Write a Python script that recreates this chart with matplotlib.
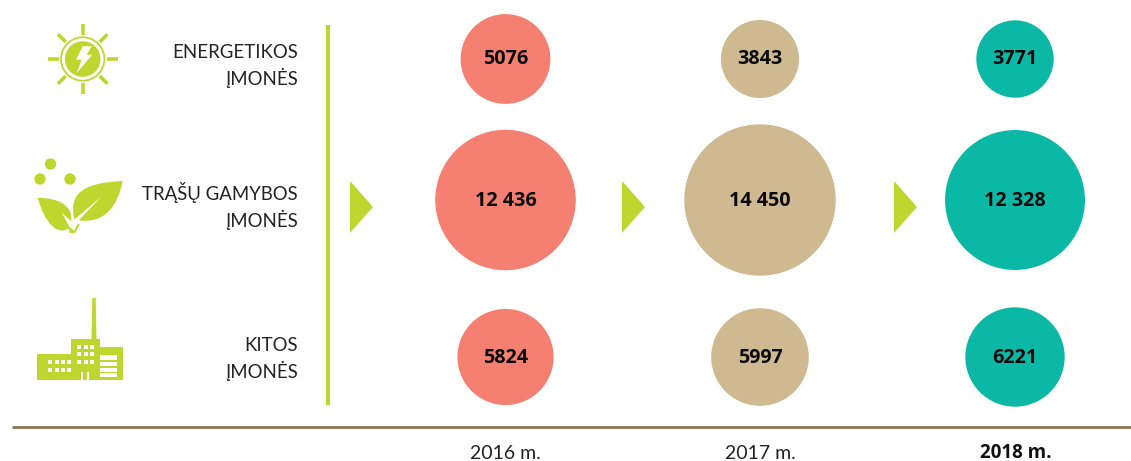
import matplotlib
matplotlib.use('Agg')
import matplotlib.pyplot as plt
import numpy as np
from matplotlib.patches import Circle, Rectangle, Polygon, PathPatch
from matplotlib.path import Path

plt.rcParams['font.family'] = ['Lato', 'DejaVu Sans']

years = ['2016 m.', '2017 m.', '2018 m.']
groups = ['ENERGETIKOS\nĮMONĖS', 'TRĄŠŲ GAMYBOS\nĮMONĖS', 'KITOS\nĮMONĖS']
energetikos = [5076, 3843, 3771]
trasu = [12436, 14450, 12328]
kitos = [5824, 5997, 6221]

green = '#BED72F'
year_colors = ['#F57F70', '#CFB991', '#0BB8A6']
year_x = [505.5, 760, 1015]
row_y = [59, 200, 357]
k = 0.63  # bubble area follows the value

C4 = [Path.MOVETO] + [Path.CURVE4] * 6

fig = plt.figure(figsize=(11.31, 4.61), dpi=100)
ax = fig.add_axes([0, 0, 1, 1])
ax.set_xlim(0, 1131)
ax.set_ylim(461, 0)
ax.axis('off')

# bubbles
for y, vals in zip(row_y, [energetikos, trasu, kitos]):
    for x, v, c in zip(year_x, vals, year_colors):
        ax.add_patch(Circle((x, y), k * np.sqrt(v), color=c, lw=0))
        label = f'{v:,}'.replace(',', ' ') if v >= 10000 else str(v)
        ax.text(x, y + 0.5, label, ha='center', va='center', fontsize=14.2,
                fontweight='bold', family='Open Sans', color='#0A0A0A')

# row labels
for y, g in zip([66, 206, 359], groups):
    ax.text(298, y, g, ha='right', va='center', fontsize=13.4,
            color='#222222', linespacing=1.41)

# year labels
for i, (x, t) in enumerate(zip(year_x, years)):
    if i == 2:
        ax.text(x + 1, 453, t, ha='center', va='center', fontsize=13.5,
                color='#111111', fontweight='bold', family='Open Sans')
    else:
        ax.text(x, 453, t, ha='center', va='center', fontsize=14, color='#222222')

# lines
ax.plot([327.5, 327.5], [25, 405], color=green, lw=2.9, solid_capstyle='butt')
ax.plot([12, 1131], [426.7, 426.7], color='#8B7355', lw=2, solid_capstyle='butt')

# arrows
for x in [350, 622, 894]:
    ax.add_patch(Polygon([(x, 181), (x + 23, 207), (x, 233)], color=green, lw=0))

# sun icon
cx, cy = 82.7, 59
for a in np.arange(0, 360, 45):
    d = np.array([np.cos(np.radians(a)), np.sin(np.radians(a))])
    ax.plot([cx + 24 * d[0], cx + 35 * d[0]], [cy + 24 * d[1], cy + 35 * d[1]],
            color=green, lw=2.6, solid_capstyle='butt')
ax.add_patch(Circle((cx, cy), 21.7, fc='none', ec=green, lw=1.3))
ax.add_patch(Circle((cx, cy), 17.8, fc=green, lw=0))
ax.add_patch(Polygon([(82.7, 46.3), (91.7, 46.3), (86.7, 54.7), (92.3, 54.7), (76.7, 73),
                      (81.7, 59.7), (76, 59.7)], fc='white', lw=0))

# plant icon
for p in [(50.5, 164), (40, 179), (70, 179)]:
    ax.add_patch(Circle(p, 5.7, color=green, lw=0))
leaf_r = Path([(75, 222), (68, 195), (80, 183), (122.7, 181), (118, 205), (105, 225), (77, 220)], C4)
leaf_l = Path([(37.7, 197.7), (62, 198), (76, 208), (70, 227), (58, 238), (44, 222), (37.7, 197.7)], C4)
ax.add_patch(PathPatch(leaf_r, fc=green, lw=0))
ax.add_patch(PathPatch(leaf_l, fc=green, lw=0))
ax.add_patch(Polygon([(67, 225), (70, 233), (75, 233), (80, 224)], fc=green, lw=0))
# leaf veins
ax.add_patch(Polygon([(71, 227), (75, 219), (101, 197), (80, 219), (74, 231)], fc='white', lw=0))
ax.add_patch(Polygon([(62, 213), (71, 221), (72.5, 230), (69, 226)], fc='white', lw=0))

# factory icon
ax.add_patch(Polygon([(92.3, 298), (95.7, 298), (96.5, 341), (91.5, 341)], fc=green, lw=0))
ax.add_patch(Rectangle((71, 339), 28.5, 41, fc=green, lw=0))
ax.add_patch(Rectangle((37, 354), 35, 26, fc=green, lw=0))
ax.add_patch(Rectangle((99, 347), 23.5, 33, fc=green, lw=0))
for wx in [48.3, 55, 61, 67.3]:
    for wy in [360, 368.3]:
        ax.add_patch(Rectangle((wx, wy), 4, 3.8, fc='white', lw=0))
for wx in [77.3, 84, 90]:
    for wy in [345, 352.3, 360]:
        ax.add_patch(Rectangle((wx, wy), 4, 4, fc='white', lw=0))
for wy, h in [(355, 5), (361.7, 4), (367.7, 4), (373.3, 4)]:
    ax.add_patch(Rectangle((100, wy), 17, h, fc='white', lw=0))
ax.add_patch(Rectangle((81, 372), 2, 8, fc='white', lw=0))
ax.add_patch(Rectangle((86.5, 372), 2, 8, fc='white', lw=0))

fig.savefig('out.png', dpi=100, facecolor='white')
